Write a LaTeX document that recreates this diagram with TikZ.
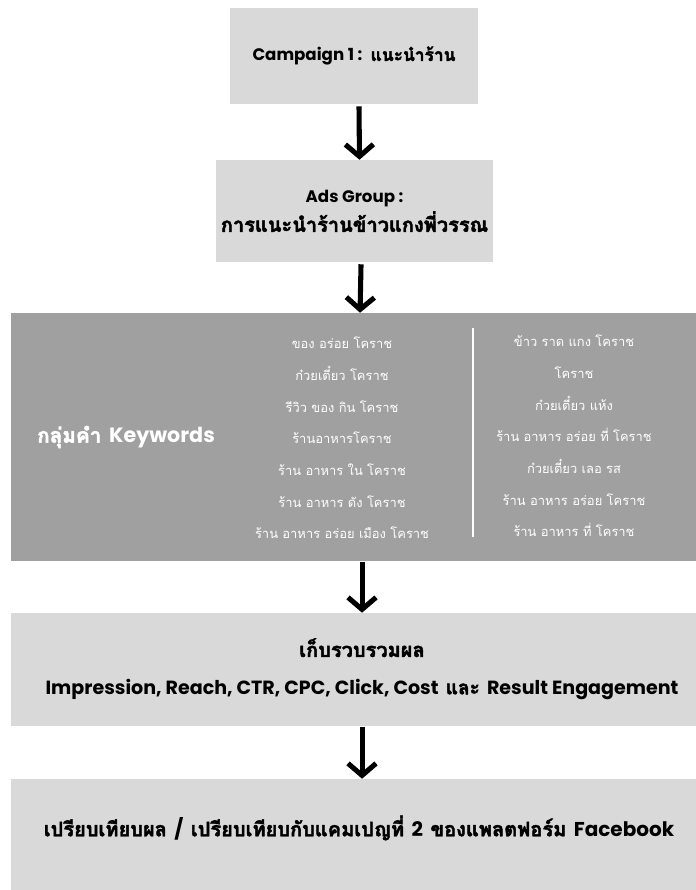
\documentclass[tikz,border=0pt]{standalone}
\usepackage{fontspec}
\usetikzlibrary{arrows.meta}
\newfontfamily\latf{Poppins}
\newfontfamily\thaif[Script=Thai]{Loma}
\newfontfamily\thaib[Script=Thai,FakeBold=2.2]{Loma}
\definecolor{lightbox}{HTML}{D9D9D9}
\definecolor{darkbox}{HTML}{A0A0A0}
\begin{document}
\begin{tikzpicture}[x=0.75pt,y=-0.75pt,
  box/.style={fill=lightbox, inner sep=0pt, align=center, text=black},
  darkb/.style={fill=darkbox, inner sep=0pt},
  arr/.style={line width=3.8pt, -{Straight Barb[length=9pt,width=21pt]}},
  headf/.style={font=\bfseries\fontsize{12.5}{24}\selectfont},
  kwf/.style={text=white, align=center, inner sep=0pt, font=\thaif\fontsize{9.7}{23.8}\selectfont},
  sep/.style={draw=white, line width=1.5pt}
]
\useasboundingbox (0,0) rectangle (696,890);
% boxes
\node[box, headf, minimum width=186pt, minimum height=72pt] (b1) at (354,56)
  {{\latf Campaign 1 :} {\thaib\fontsize{13}{24}\selectfont แนะนำร้าน}};
\node[box, headf, minimum width=207.75pt, minimum height=76.5pt] (b2) at (354.5,211)
  {{\latf Ads Group :}\\[-2pt]{\thaib\fontsize{15}{24}\selectfont การแนะนำร้านข้าวแกงพี่วรรณ}};
\node[darkb, minimum width=513.75pt, minimum height=186pt] (b3) at (353.5,437) {};
\node[box, minimum width=513.75pt, minimum height=84.75pt] (b4) at (353.5,669.5) {};
\node[box, minimum width=513.75pt, minimum height=84pt] (b5) at (353.5,835) {};
% texts in dark box
\node[text=white, inner sep=0pt, font=\bfseries\fontsize{15.5}{17}\selectfont] (kwtitle) at (126,437)
  {{\thaib กลุ่มคำ} {\latf Keywords}};
\node[kwf] (kwleft) at (342,438)
  {ของ อร่อย โคราช\\ก๋วยเตี๋ยว โคราช\\รีวิว ของ กิน โคราช\\ร้านอาหารโคราช\\ร้าน อาหาร ใน โคราช\\ร้าน อาหาร ดัง โคราช\\ร้าน อาหาร อร่อย เมือง โคราช};
\node[kwf] (kwright) at (574,436)
  {ข้าว ราด แกง โคราช\\โคราช\\ก๋วยเตี๋ยว แห้ง\\ร้าน อาหาร อร่อย ที่ โคราช\\ก๋วยเตี๋ยว เลอ รส\\ร้าน อาหาร อร่อย โคราช\\ร้าน อาหาร ที่ โคราช};
\coordinate (sepTop) at (473,328);
\coordinate (sepBot) at (473,537);
\draw[sep] (sepTop) -- (sepBot);
% texts in lower boxes
\node[inner sep=0pt, align=center, font=\bfseries\fontsize{14.3}{24}\selectfont] (t4) at (362,669)
  {{\thaib\fontsize{15}{24}\selectfont เก็บรวบรวมผล}\\[4pt]{\latf Impression, Reach, CTR, CPC, Click, Cost} {\thaib และ} {\latf Result Engagement}};
\node[inner sep=0pt, font=\bfseries\fontsize{15}{24}\selectfont] (t5) at (359,828)
  {{\thaib เปรียบเทียบผล} {\latf /} {\thaib เปรียบเทียบกับแคมเปญที่} {\latf 2} {\thaib ของแพลตฟอร์ม} {\latf Facebook}};
% arrows
\draw[arr] ([xshift=3.75pt]b1.south) ++(0,2) -- ([xshift=3.75pt]b2.north);
\draw[arr] ([xshift=4.9pt]b2.south) ++(0,2) -- ([xshift=4.9pt]b3.north);
\draw[arr] ([xshift=6.4pt]b3.south) ++(0,1) -- ([xshift=6.4pt]b4.north);
\draw[arr] ([xshift=6.4pt]b4.south) ++(0,1) -- ([xshift=6.4pt]b5.north);
\end{tikzpicture}
\end{document}
